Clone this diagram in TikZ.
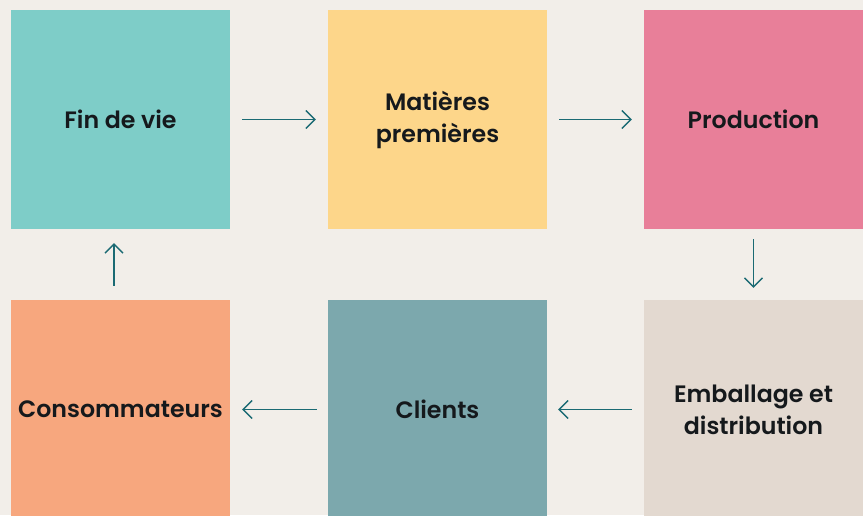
\documentclass[tikz,border=0pt]{standalone}
\usepackage{fontspec}
\setmainfont{Poppins}[BoldFont={Poppins SemiBold}]
\usetikzlibrary{arrows.meta}
\definecolor{bg}{HTML}{F2EEE9}
\definecolor{cteal}{HTML}{7ECDC8}
\definecolor{cyellow}{HTML}{FDD68A}
\definecolor{cpink}{HTML}{E87F99}
\definecolor{cbeige}{HTML}{E3D9D0}
\definecolor{cgrey}{HTML}{7CA8AD}
\definecolor{corange}{HTML}{F7A77E}
\definecolor{ctext}{HTML}{15191C}
\definecolor{carrow}{HTML}{1B6A73}
\begin{document}
\begin{tikzpicture}[x=1pt,y=-1pt,
  box/.style={rectangle, minimum width=219pt, minimum height=219pt, inner sep=0pt,
    text=ctext, font=\fontsize{23.7}{32}\selectfont\bfseries, align=center},
  flow/.style={draw=carrow, line width=1.3pt, -{Straight Barb[length=9pt,width=18pt,line width=1.3pt]}}
]
\fill[bg] (0,0) rectangle (863,515);
\useasboundingbox (0,0) rectangle (863,515);
\begin{scope}
\clip (0,0) rectangle (863,515);
\node[box, fill=cteal]   (fin)  at (120.5,119.5) {Fin de vie};
\node[box, fill=cyellow] (mat)  at (437.5,119.5) {Matières\\premières};
\node[box, fill=cpink]   (prod) at (753.5,119.5) {Production};
\node[box, fill=cbeige]  (emb)  at (753.5,409.5) {Emballage et\\distribution};
\node[box, fill=cgrey]   (cli)  at (437.5,409.5) {Clients};
\node[box, fill=corange] (con)  at (120.5,409.5) {Consommateurs};
\end{scope}
\draw[flow, shorten <=12pt, shorten >=12pt] (fin.east) -- (mat.west);
\draw[flow, shorten <=12pt, shorten >=12pt] (mat.east) -- (prod.west);
\draw[flow, shorten <=10pt, shorten >=12pt] (prod.south) -- (emb.north);
\draw[flow, shorten <=12pt, shorten >=11pt] (emb.west) -- (cli.east);
\draw[flow, shorten <=11pt, shorten >=12pt] (cli.west) -- (con.east);
\draw[flow, shorten <=14pt, shorten >=14pt] ([xshift=-6.5pt]con.north) -- ([xshift=-6.5pt]fin.south);
\end{tikzpicture}
\end{document}
